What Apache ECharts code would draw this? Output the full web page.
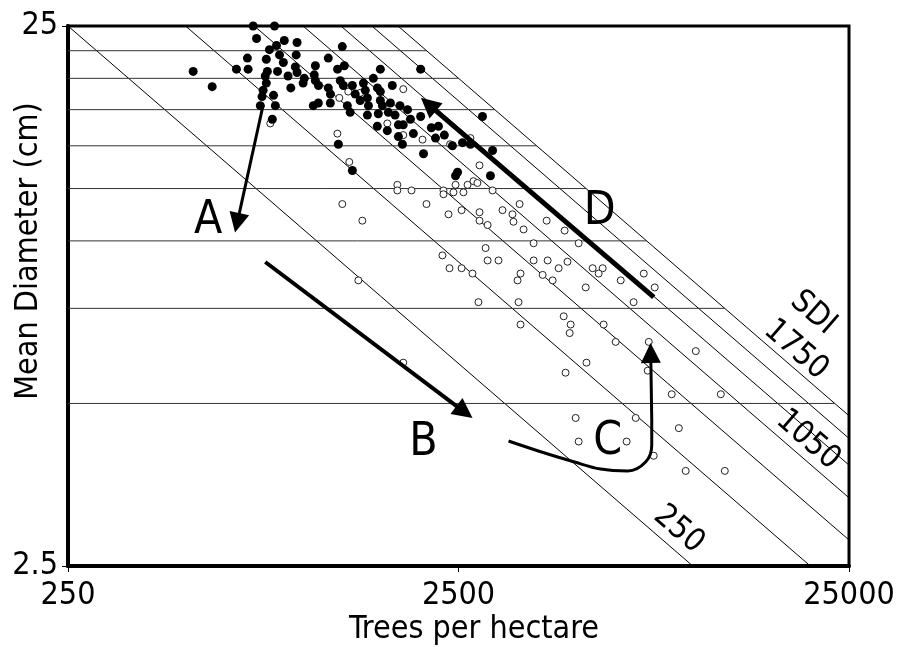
<!DOCTYPE html>
<html>
<head>
<meta charset="utf-8">
<script src="https://cdn.jsdelivr.net/npm/echarts@6/dist/echarts.min.js"></script>
<style>
  html, body { margin: 0; padding: 0; background: #fff; }
  #chart { width: 900px; height: 647px; }
</style>
</head>
<body>
<div id="chart"></div>
<script>
// [trees per hectare, mean diameter cm]
const filledStands = [
  [745,25],[845,25],[760,23.7],[895,23.5],[965,23.3],[855,23.0],[820,22.6],[720,21.8],[870,22.1],[960,22.1],
  [805,21.7],[890,21.4],[675,20.8],[723,20.8],[523,20.6],[810,20.6],[860,20.6],[955,21.0],[965,20.5],[1075,21.1],
  [1160,21.8],[1260,22.9],[1225,20.8],[1275,21.1],[1068,20.3],[1007,20.0],[1000,19.6],[1075,19.8],[800,20.2],[805,19.6],
  [585,19.3],[790,19.0],[840,18.6],[785,18.5],[1095,19.4],[1160,19.2],[1175,18.7],[1245,19.8],[1268,19.4],[1337,19.4],
  [1427,19.6],[1443,19.0],[1513,20.0],[1577,20.8],[2000,20.8],[1550,19.2],[1577,18.9],[1692,19.4],[1062,17.8],[1094,18.0],
  [1174,18.0],[1298,17.8],[1461,18.4],[1470,17.8],[1577,18.2],[1596,17.8],[1673,18.0],[777,17.8],[849,17.8],[834,16.8],
  [1461,17.1],[1558,17.2],[1653,17.3],[1851,17.5],[2000,17.0],[1549,16.3],[1643,16.0],[1754,16.4],[1805,16.4],[1883,16.8],
  [1916,15.8],[2221,16.3],[1796,15.1],[2034,14.5],[2183,15.5],[2412,15.0],[2560,15.2],[2683,15.1],[2880,17.0],[3056,14.7],
  [1231,15.1],[1337,13.5],[2486,13.4],[2457,13.2],[3018,13.2],[1400,18.2],[1320,17.3],[1720,17.1],[1770,17.8],[915,20.2],
  [930,19.2],[1360,18.7],[1754,15.6],[2130,16.2],[2300,15.7]
];
const openStands = [
  [1805,19.1],[1305,18.9],[1401,18.8],[1238,18.4],[1643,16.5],[1805,15.7],[2022,15.4],[1224,15.8],[1313,14.0],[824,16.5],
  [2830,13.8],[2730,12.9],[1743,12.7],[1743,12.4],[1895,12.4],[2288,12.4],[2288,12.2],[2457,12.7],[2427,12.3],[2574,12.3],
  [2637,12.7],[2795,12.8],[3056,12.4],[1260,11.7],[1418,10.9],[2070,11.7],[2357,11.2],[2546,11.4],[2830,11.3],[2830,10.9],
  [2968,10.7],[3240,11.4],[3437,11.2],[3457,10.85],[3584,11.7],[3669,10.5],[4204,10.9],[4674,10.45],[3893,9.9],[5077,9.9],
  [2933,9.7],[2274,9.4],[2371,8.9],[2546,8.9],[2715,8.7],[2968,9.2],[3165,9.2],[3893,9.2],[4229,9.2],[4512,8.9],
  [4754,9.15],[5514,8.9],[5850,8.9],[5713,8.7],[3604,8.7],[3541,8.45],[4106,8.65],[4355,8.45],[5293,8.2],[6507,8.45],
  [7454,8.7],[7952,8.2],[7020,7.7],[1385,8.45],[2812,7.7],[3562,7.7],[4649,7.25],[4843,7.0],[4815,6.75],[3604,7.0],
  [5883,7.0],[6316,6.5],[7677,6.5],[10130,6.25],[1805,5.95],[5317,5.95],[4700,5.7],[7630,5.75],[8789,5.2],[11740,5.2],
  [4988,4.7],[7108,4.7],[9166,4.5],[5077,4.25],[6737,4.25],[7905,4.0],[9544,3.75],[12020,3.75],[2379,15.1],[2683,15.5]
];

// stand density index lines and diameter guide lines
const sdiLines = [250, 500, 750, 1000, 1250, 1500, 1750];
const diameterLevels = [5, 7.5, 10, 12.5, 15, 17.5, 20, 22.5];
const sdiLabels = [
  { name: 'SDI', at: [20225, 7.35] },
  { name: '1750', at: [18280, 6.28] },
  { name: '1050', at: [19630, 4.28] },
  { name: '250', at: [9160, 2.92] }
];

// annotation arrows, [trees, diameter] from -> to
const arrowA = [[790, 17.85], [678, 10.8]];
const arrowB = [[800, 9.14], [2590, 4.82]];
const arrowD = [[7906, 7.87], [2094, 17.9]];
const curveC = [[3358,4.26],[4058,4.07],[4930,3.90],[5782,3.78],[6782,3.75],[7543,3.90],[7813,4.19],[7813,4.66]];
const arrowC = [[7813, 4.66], [7766, 6.2]];
const letterLabels = [
  { name: 'A', at: [571, 10.9] },
  { name: 'B', at: [2033, 4.22] },
  { name: 'C', at: [6027, 4.24] },
  { name: 'D', at: [5748, 11.3] }
];

const xTickLabels = ['250', '2500', '25000'];
const yTickLabels = ['2.5', '25'];

const N0 = 250, D0 = 2.5, DMAX = 25, EXP = 1.6;
const tx = n => Math.log10(n / N0);
const ty = d => Math.log10(d / D0);
const pt = p => [tx(p[0]), ty(p[1])];

const font = '"Liberation Sans Narrow", "DejaVu Sans Condensed", "Liberation Sans", sans-serif';
const ink = '#000';

let chart = echarts.init(document.getElementById('chart'));

let series = [];

sdiLines.forEach(s => {
  series.push({
    type: 'line', silent: true, symbol: 'none', clip: true, z: 1,
    lineStyle: { color: ink, width: 1 },
    data: [pt([s, DMAX]), pt([s * Math.pow(DMAX / D0, EXP), D0])]
  });
});

diameterLevels.forEach(d => {
  series.push({
    type: 'line', silent: true, symbol: 'none', clip: true, z: 1,
    lineStyle: { color: '#333', width: 1 },
    data: [pt([N0, d]), pt([sdiLines[sdiLines.length - 1] * Math.pow(DMAX / d, EXP), d])]
  });
});

series.push({
  type: 'scatter', symbol: 'circle', symbolSize: 7, z: 3, silent: true,
  itemStyle: { color: '#fff', borderColor: '#222', borderWidth: 1, opacity: 1 },
  data: openStands.map(pt)
});
series.push({
  type: 'scatter', symbol: 'circle', symbolSize: 9, z: 4, silent: true,
  itemStyle: { color: ink, opacity: 1 },
  data: filledStands.map(pt)
});

series.push({
  type: 'line', silent: true, symbol: 'none', smooth: 0.4, z: 5,
  lineStyle: { color: ink, width: 3 },
  data: curveC.map(pt)
});

const arrowWidths = [3, 4, 5, 3];
series.push({
  type: 'lines', coordinateSystem: 'cartesian2d', silent: true, z: 5,
  symbol: ['none', 'triangle'], symbolSize: 20,
  lineStyle: { color: ink, width: 4, opacity: 1 },
  data: [arrowA, arrowB, arrowD, arrowC].map((a, i) => ({
    coords: a.map(pt),
    lineStyle: { width: arrowWidths[i], color: ink, opacity: 1 }
  }))
});

series.push({
  type: 'scatter', symbolSize: 0, silent: true, z: 6,
  itemStyle: { opacity: 1 },
  label: { show: true, position: 'inside', formatter: '{b}', rotate: -41,
    fontFamily: font, fontSize: 32, color: ink, opacity: 1 },
  data: sdiLabels.map(l => ({ name: l.name, value: pt(l.at) }))
});

series.push({
  type: 'scatter', symbolSize: 0, silent: true, z: 6,
  itemStyle: { opacity: 1 },
  label: { show: true, position: 'inside', formatter: '{b}',
    fontFamily: font, fontSize: 46, color: ink, opacity: 1 },
  data: letterLabels.map(l => ({ name: l.name, value: pt(l.at) }))
});

let option = {
  animation: false,
  backgroundColor: '#fff',
  grid: { left: 68, right: 51, top: 26, bottom: 81, show: true, borderColor: ink, borderWidth: 3, containLabel: false },
  xAxis: {
    type: 'value', min: 0, max: 2, interval: 1,
    axisLine: { show: true, lineStyle: { color: ink, width: 4 } },
    axisTick: { show: true, length: 6, lineStyle: { color: ink, width: 1 } },
    axisLabel: { formatter: v => xTickLabels[Math.round(v)], fontFamily: font, fontSize: 32, color: ink, margin: 14 },
    splitLine: { show: false }
  },
  yAxis: {
    type: 'value', min: 0, max: 1, interval: 1,
    axisLine: { show: true, lineStyle: { color: ink, width: 4 } },
    axisTick: { show: true, length: 6, lineStyle: { color: ink, width: 1 } },
    axisLabel: { formatter: v => yTickLabels[Math.round(v)], fontFamily: font, fontSize: 32, color: ink, margin: 10 },
    splitLine: { show: false }
  },
  graphic: [
    { type: 'text', x: 474, y: 614, silent: true,
      style: { text: 'Trees per hectare', font: '32px ' + font, fill: ink, textAlign: 'center', textVerticalAlign: 'top' } },
    { type: 'text', x: 29, y: 251, rotation: Math.PI / 2, silent: true,
      style: { text: 'Mean Diameter (cm)', font: '32px ' + font, fill: ink, textAlign: 'center', textVerticalAlign: 'middle' } }
  ],
  series: series
};

chart.setOption(option);
</script>
</body>
</html>
